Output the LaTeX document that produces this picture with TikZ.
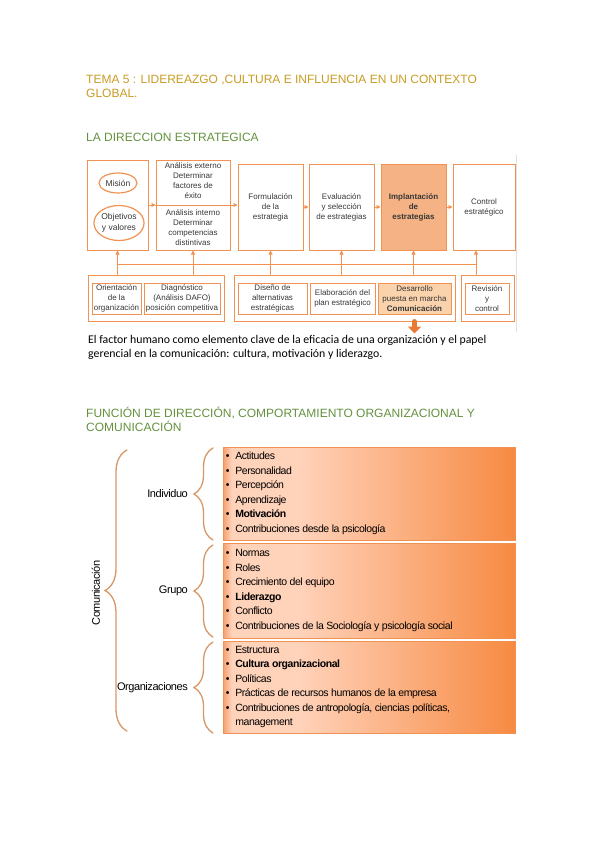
\documentclass[tikz,border=0pt]{standalone}
\usepackage{fontspec}
\setmainfont{Liberation Sans}
\newfontfamily\narrowfont[LetterSpace=-4]{Liberation Sans}
\newfontfamily\bodyfont{Carlito}
\usepackage{tikz}
\usetikzlibrary{arrows.meta,shapes.geometric,decorations.pathreplacing}
\usepackage{xcolor}
\definecolor{orng}{RGB}{242,146,82}
\definecolor{orngD}{RGB}{247,138,66}
\definecolor{orngE}{RGB}{244,160,110}
\definecolor{peachL}{RGB}{255,210,186}
\definecolor{implFill}{RGB}{245,178,132}
\definecolor{desFill}{RGB}{250,210,172}
\definecolor{gold}{RGB}{200,155,35}
\definecolor{sgreen}{RGB}{100,145,62}
\definecolor{txtgray}{RGB}{55,55,55}
\definecolor{brcol}{RGB}{214,150,102}
\definecolor{arrD}{RGB}{232,122,52}
\pgfdeclarehorizontalshading{peach}{100bp}{color(0bp)=(orngE);color(25bp)=(orngE);color(26.5bp)=(peachL);color(38bp)=(peachL);color(75bp)=(orngD);color(100bp)=(orngD)}
\newcommand{\itm}[1]{\makebox[9.5pt][l]{\textbullet}#1}

\begin{document}
\begin{tikzpicture}[x=1pt,y=-1pt,>={Triangle[length=4pt,width=4pt]},line cap=round,
  box/.style={draw=orng,line width=1pt,inner sep=0pt,align=center,text=txtgray,
    font=\fontsize{8}{10}\selectfont},
  txt/.style={inner sep=0pt,align=center,text=txtgray,font=\fontsize{8}{10}\selectfont},
  oval/.style={draw=orng,line width=1.2pt,ellipse,inner sep=0pt,align=center,text=txtgray,
    font=\fontsize{8.5}{10.5}\selectfont},
  conn/.style={draw=orng,line width=0.9pt,color=orng},
  head/.style={anchor=base west,inner sep=0pt,font=\fontsize{12}{14}\selectfont},
  items/.style={anchor=west,inner sep=0pt,align=left,text=black,
    font=\narrowfont\fontsize{10.5}{14.5}\selectfont},
  lbl/.style={inner sep=0pt,text=black,font=\narrowfont\fontsize{11}{13}\selectfont},
  brc/.style={draw=brcol,line width=1.3pt,decorate,decoration={brace,amplitude=#1}},
  obox/.style={draw=orng,line width=0.8pt,shading=peach,inner sep=0pt,minimum width=292pt}]
\useasboundingbox (0,0) rectangle (599,848);
% headings
\node[head,text=gold] (tema1) at (86,84) {TEMA 5 : LIDEREAZGO ,CULTURA E INFLUENCIA EN UN CONTEXTO};
\node[head,text=gold] (tema2) at (86,98) {GLOBAL.};
\node[head,text=sgreen] (dir) at (86,142) {LA DIRECCION ESTRATEGICA};

% top row
\node[box,minimum width=61pt,minimum height=90pt] (mv) at (117.5,205) {};
\node[oval,minimum width=38pt,minimum height=20pt] (mis) at (118,183) {Misión};
\node[oval,minimum width=46pt,minimum height=35pt] (obj) at (119,223) {Objetivos\\y valores};
\node[box,minimum width=74pt,minimum height=90pt] (ana) at (193,205) {};
\node[txt] (ext) at (193,181) {Análisis externo\\Determinar\\factores de\\éxito};
\node[txt] (int) at (193,228) {Análisis interno\\Determinar\\competencias\\distintivas};
\node[box,minimum width=65pt,minimum height=86pt] (form) at (270.5,207) {Formulación\\de la\\estrategia};
\node[box,minimum width=65pt,minimum height=86pt] (eval) at (341.5,207) {Evaluación\\y selección\\de estrategias};
\node[box,fill=implFill,minimum width=65pt,minimum height=86pt,font=\bfseries\fontsize{8}{10}\selectfont] (impl) at (413.5,207) {Implantación\\de\\estrategias};
\node[box,minimum width=62pt,minimum height=86pt] (ctrl) at (484,207) {Control\\estratégico};
\draw[conn,->] (mv.east) -- (mv.east -| ana.west);
\draw[conn,->] (mv.east -| ana.west) -- (mv.east -| form.west);
\draw[conn,->] (form.east) -- (eval.west);
\draw[conn,->] (eval.east) -- (impl.west);
\draw[conn,->] (impl.east) -- (ctrl.west);

% bottom row
\node[box,minimum width=136pt,minimum height=46pt] (g1) at (156,298) {};
\node[box,minimum width=49pt,minimum height=31pt] (ori) at (116.5,298.5) {Orientación\\de la\\organización};
\node[box,minimum width=76pt,minimum height=31pt] (dia) at (182,298.5) {Diagnóstico\\(Análisis DAFO)\\posición competitiva};
\node[box,minimum width=221pt,minimum height=46pt] (g2) at (344.5,298) {};
\node[box,minimum width=69pt,minimum height=31pt] (dis) at (272.5,298.5) {Diseño de\\alternativas\\estratégicas};
\node[box,minimum width=65pt,minimum height=31pt] (ela) at (342.5,298.5) {Elaboración del\\plan estratégico};
\node[box,fill=desFill,minimum width=73pt,minimum height=31pt] (des) at (414.5,298.5) {Desarrollo\\puesta en marcha\\\textbf{Comunicación}};
\node[box,minimum width=53pt,minimum height=46pt] (g3) at (487.5,298) {};
\node[box,minimum width=44pt,minimum height=31pt] (rev) at (487,298.5) {Revisión\\y\\control};

% bus and risers
\coordinate (busL) at (118,264);
\coordinate (busR) at (476,264);
\coordinate (cR) at ([xshift=-8pt]ctrl.south);
\draw[conn] (busL) -- (busR);
\draw[conn,->] (g1.north -| mv.south) -- (mv.south);
\draw[conn,->] (g1.north -| ana.south) -- (ana.south);
\draw[conn,->] (g2.north -| form.south) -- (form.south);
\draw[conn,->] (g2.north -| eval.south) -- (eval.south);
\draw[conn,->] (g2.north -| impl.south) -- (impl.south);
\draw[conn,->] (g3.north -| cR) -- (cR);
\draw[arrD,line width=5pt,-{Triangle[width=13pt,length=7pt]}] (des.south |- g2.south) -- ++(0,12);
\draw[black!12,line width=1pt] (516,155) -- (516,332);

\node[anchor=base west,inner sep=0pt,align=left,font=\bodyfont\fontsize{11.8}{14}\selectfont] (fac1) at (88,343) {El factor humano como elemento clave de la eficacia de una organización y el papel};
\node[anchor=base west,inner sep=0pt,align=left,font=\bodyfont\fontsize{11.8}{14}\selectfont] (fac2) at (88,357) {gerencial en la comunicación: cultura, motivación y liderazgo.};

% second diagram
\node[head,text=sgreen] (fun1) at (86,417) {FUNCIÓN DE DIRECCIÓN, COMPORTAMIENTO ORGANIZACIONAL Y};
\node[head,text=sgreen] (fun2) at (86,431) {COMUNICACIÓN};

\node[obox,minimum height=93pt] (b1) at (369,493.5) {};
\node[obox,minimum height=95pt] (b2) at (369,590.5) {};
\node[obox,minimum height=92pt] (b3) at (369,687) {};
\node[items] (l1) at ([xshift=3pt]b1.west) {\itm{Actitudes}\\\itm{Personalidad}\\\itm{Percepción}\\\itm{Aprendizaje}\\\itm{\textbf{Motivación}}\\\itm{Contribuciones desde la psicología}};
\node[items] (l2) at ([xshift=3pt]b2.west) {\itm{Normas}\\\itm{Roles}\\\itm{Crecimiento del equipo}\\\itm{\textbf{Liderazgo}}\\\itm{Conflicto}\\\itm{Contribuciones de la Sociología y psicología social}};
\node[items] (l3) at ([xshift=3pt]b3.west) {\itm{Estructura}\\\itm{\textbf{Cultura organizacional}}\\\itm{Políticas}\\\itm{Prácticas de recursos humanos de la empresa}\\\itm{Contribuciones de antropología, ciencias políticas,}\\\hspace*{9.5pt}management};

\draw[brc=22pt] (127,731) -- (127,450);
\draw[brc=19pt] (213,540) -- (213,448);
\draw[brc=19pt] (213,637) -- (213,545);
\draw[brc=19pt] (213,733) -- (213,642);
\node[lbl,rotate=90] (com) at (96,593) {Comunicación};
\node[lbl,anchor=east] (ind) at (188,494) {Individuo};
\node[lbl,anchor=east] (gru) at (188,591) {Grupo};
\node[lbl,anchor=east] (org) at (188,688) {Organizaciones};
\end{tikzpicture}
\end{document}
